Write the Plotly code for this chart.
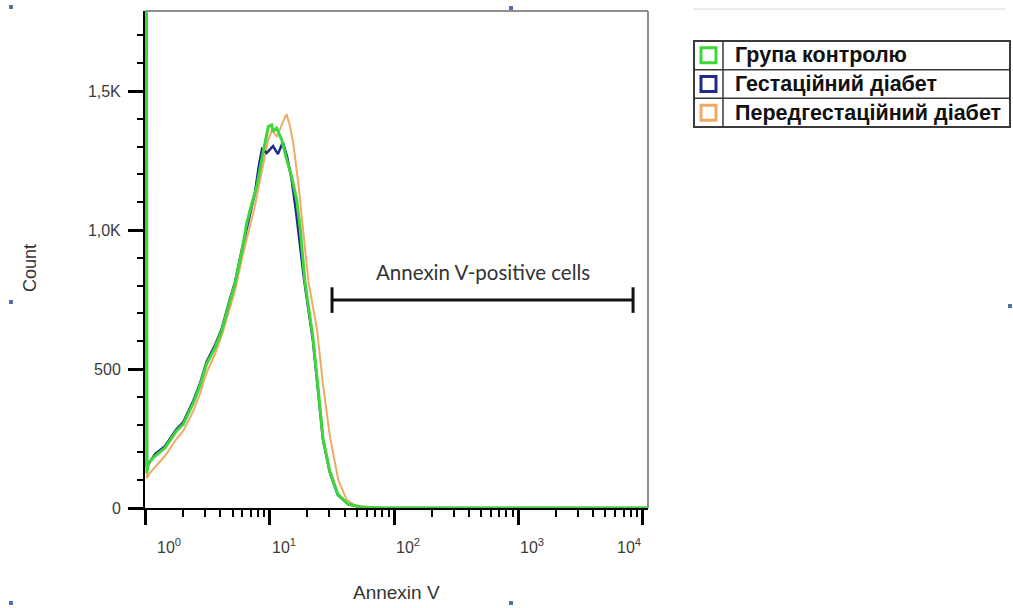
import math
import plotly.graph_objects as go

# ---------------- data ----------------
control_x = [1.0, 1.024, 1.05, 1.19, 1.43, 1.77, 2.01, 2.42, 2.73, 3.09,
             3.61, 4.09, 4.77, 5.23, 5.95, 6.51, 7.1, 7.83, 8.80, 9.71,
             10.34, 10.59, 11.34, 12.45, 13.65, 14.97, 16.43, 17.47, 19.1, 20.2,
             22.2, 24.4, 26.7, 30.3, 35.2, 42.5, 52.8, 70, 150, 500,
             2000, 11000]
control_y = [5200, 126, 162, 187, 216, 277, 302, 378, 439, 518,
             576, 637, 745, 806, 924, 1025, 1090, 1156, 1277, 1372,
             1378, 1354, 1367, 1324, 1253, 1192, 1108, 1012, 817, 734,
             612, 432, 252, 133, 50, 14, 4, 1, 0, 0,
             0, 0]

gest_x = [1.0, 1.024, 1.06, 1.19, 1.43, 1.77, 2.01, 2.42, 2.73, 3.09,
          3.61, 4.09, 4.77, 5.23, 5.95, 6.90, 7.57, 8.14, 8.63, 9.41,
          10.6, 11.6, 12.7, 13.7, 14.9, 16.2, 17.4, 18.8, 20.2, 22.2,
          24.4, 26.7, 30.3, 35.2, 42.5, 52.8, 70, 150, 500, 2000,
          11000]
gest_y = [5000, 146, 160, 194, 222, 283, 309, 386, 446, 525,
          585, 644, 752, 811, 930, 1054, 1133, 1230, 1291, 1277,
          1302, 1273, 1316, 1266, 1187, 1068, 942, 824, 727, 601,
          421, 248, 129, 47, 14, 4, 1, 0, 0, 0,
          0]

pregest_x = [1.0, 1.024, 1.08, 1.19, 1.43, 1.77, 2.01, 2.42, 2.73, 3.09,
             3.61, 4.09, 4.77, 5.23, 5.95, 6.90, 7.57, 8.78, 9.64, 10.4,
             11.4, 12.5, 13.6, 14.5, 15.43, 16.93, 18.57, 20.4, 23.8, 26.9,
             30.4, 35.5, 41.5, 48.4, 56.4, 80, 150, 500, 2000, 11000]
pregest_y = [4800, 108, 126, 147, 187, 248, 277, 349, 410, 486,
             554, 619, 723, 781, 896, 1011, 1086, 1230, 1320, 1360,
             1335, 1380, 1417, 1374, 1312, 1168, 1000, 815, 650, 436,
             257, 101, 29, 10, 5, 1, 0, 0, 0, 0]

series_names = ["Група контролю", "Гестаційний діабет", "Передгестаційний діабет"]
series_colors = ["#3fd63a", "#1e2a8c", "#efaa66"]

y_tick_vals = [0, 500, 1000, 1500]
y_tick_text = ["0", "500", "1,0K", "1,5K"]
x_tick_vals = [1, 10, 100, 1000, 10000]
x_tick_text = ["10<sup>0</sup>", "10<sup>1</sup>", "10<sup>2</sup>", "10<sup>3</sup>", "10<sup>4</sup>"]

gate_lo, gate_hi = 31.6, 8350
gate_level = 748
gate_label = "Annexin V-positive cells"

# ---------------- layout geometry ----------------
W, H = 1013, 608
L, R, T, B = 145, 648, 11, 508


def px(xp):
    return (xp - L) / (R - L)


def py(yp):
    return (B - yp) / (B - T)


fig = go.Figure()
for xs, ys, name, col, lw in [
    (pregest_x, pregest_y, series_names[2], series_colors[2], 2),
    (gest_x, gest_y, series_names[1], series_colors[1], 2.5),
    (control_x, control_y, series_names[0], series_colors[0], 3),
]:
    fig.add_trace(go.Scatter(x=xs, y=ys, mode="lines", name=name,
                             line=dict(color=col, width=lw), showlegend=False))

minor_x = [k * 10 ** d for d in range(0, 4) for k in range(2, 10)]

fig.update_xaxes(type="log", range=[-0.005, 4.042], showgrid=False, zeroline=False,
                 showline=True, linecolor="black", linewidth=2,
                 tickmode="array", tickvals=x_tick_vals, showticklabels=False,
                 ticks="outside", ticklen=15, tickwidth=3, tickcolor="black",
                 minor=dict(tickmode="array", tickvals=minor_x, ticks="outside",
                            ticklen=7, tickwidth=2, tickcolor="black"))
fig.update_yaxes(range=[0, 1788], showgrid=False, zeroline=False,
                 showline=True, linecolor="black", linewidth=2,
                 tickmode="array", tickvals=y_tick_vals, ticktext=y_tick_text,
                 ticks="outside", ticklen=15, tickwidth=3, tickcolor="black",
                 ticklabelstandoff=4,
                 tickfont=dict(family="Liberation Sans, Arial", size=16, color="#3a3a3a"),
                 minor=dict(dtick=100, ticks="outside", ticklen=6, tickwidth=2,
                            tickcolor="black"))

shapes = []
annotations = []

# plot frame (top & right)
shapes.append(dict(type="line", xref="paper", yref="paper", x0=0, x1=1, y0=1, y1=1,
                   line=dict(color="#6a6a6a", width=1.5), layer="below"))
shapes.append(dict(type="line", xref="paper", yref="paper", x0=1, x1=1, y0=0, y1=1,
                   line=dict(color="#6a6a6a", width=1.5), layer="below"))

# x tick labels
shifts = [9, 0, 0, 0, 0]
for i, (v, t) in enumerate(zip(x_tick_vals, x_tick_text)):
    anchor = "right" if i == len(x_tick_vals) - 1 else "left"
    annotations.append(dict(x=math.log10(v), y=py(546), xref="x", yref="paper",
                            text=t, showarrow=False, xanchor=anchor, yanchor="middle",
                            xshift=shifts[i],
                            font=dict(family="Liberation Sans, Arial", size=16, color="#3a3a3a")))

# axis titles
annotations.append(dict(x=px(396), y=py(592), xref="paper", yref="paper", text="Annexin V",
                        showarrow=False, xanchor="center", yanchor="middle",
                        font=dict(family="Liberation Sans, Arial", size=19, color="#333")))
annotations.append(dict(x=px(30), y=py(268), xref="paper", yref="paper", text="Count",
                        showarrow=False, xanchor="center", yanchor="middle", textangle=-90,
                        font=dict(family="Liberation Sans, Arial", size=18, color="#333")))

# gate bracket (shapes on a log axis take raw data values)
shapes.append(dict(type="line", xref="x", yref="y", x0=gate_lo, x1=gate_hi,
                   y0=gate_level, y1=gate_level, line=dict(color="#111", width=3)))
for gx in (gate_lo, gate_hi):
    shapes.append(dict(type="line", xref="x", yref="y", x0=gx, x1=gx,
                       y0=gate_level - 46, y1=gate_level + 46, line=dict(color="#111", width=3)))
glo, ghi = math.log10(gate_lo), math.log10(gate_hi)
annotations.append(dict(x=(glo + ghi) / 2, y=gate_level + 100, xref="x", yref="y",
                        text=gate_label, showarrow=False, xanchor="center", yanchor="middle",
                        font=dict(family="Lato, Open Sans", size=20.5, color="#333")))

# legend table
lx0, lx1, ly0, ly1, icon_r = 694, 1010, 41, 127, 723
row_h = (ly1 - ly0) / 3
shapes.append(dict(type="line", xref="paper", yref="paper", x0=px(693), x1=px(1005),
                   y0=py(9), y1=py(9), line=dict(color="#d8d8d8", width=1)))
shapes.append(dict(type="rect", xref="paper", yref="paper", x0=px(lx0), x1=px(lx1),
                   y0=py(ly1), y1=py(ly0), line=dict(color="#3a3a3a", width=2)))
shapes.append(dict(type="line", xref="paper", yref="paper", x0=px(icon_r), x1=px(icon_r),
                   y0=py(ly1), y1=py(ly0), line=dict(color="#3a3a3a", width=1.5)))
for i in range(1, 3):
    yy = ly0 + i * row_h
    shapes.append(dict(type="line", xref="paper", yref="paper", x0=px(lx0), x1=px(lx1),
                       y0=py(yy), y1=py(yy), line=dict(color="#3a3a3a", width=1.5)))
for i, (name, col) in enumerate(zip(series_names, series_colors)):
    cy = ly0 + (i + 0.5) * row_h
    shapes.append(dict(type="rect", xref="paper", yref="paper", x0=px(701), x1=px(716),
                       y0=py(cy + 7.5), y1=py(cy - 7.5), line=dict(color=col, width=3)))
    annotations.append(dict(x=px(733), y=py(cy), xref="paper", yref="paper", text="<b>%s</b>" % name,
                            showarrow=False, xanchor="left", yanchor="middle",
                            font=dict(family="Liberation Sans, Arial", size=21.5, color="#111")))

# selection handles of the original slide
for hx, hy in [(11, 7), (511, 8), (11, 302), (1010, 306), (11, 603), (511, 603)]:
    shapes.append(dict(type="rect", xref="paper", yref="paper", x0=px(hx - 2), x1=px(hx + 2),
                       y0=py(hy + 2), y1=py(hy - 2), line=dict(width=0), fillcolor="#4a74a8"))

fig.update_layout(width=W, height=H, autosize=False,
                  margin=dict(l=L, r=W - R, t=T, b=H - B, pad=0),
                  paper_bgcolor="white", plot_bgcolor="white",
                  shapes=shapes, annotations=annotations, showlegend=False)

fig.write_html("out.html")
